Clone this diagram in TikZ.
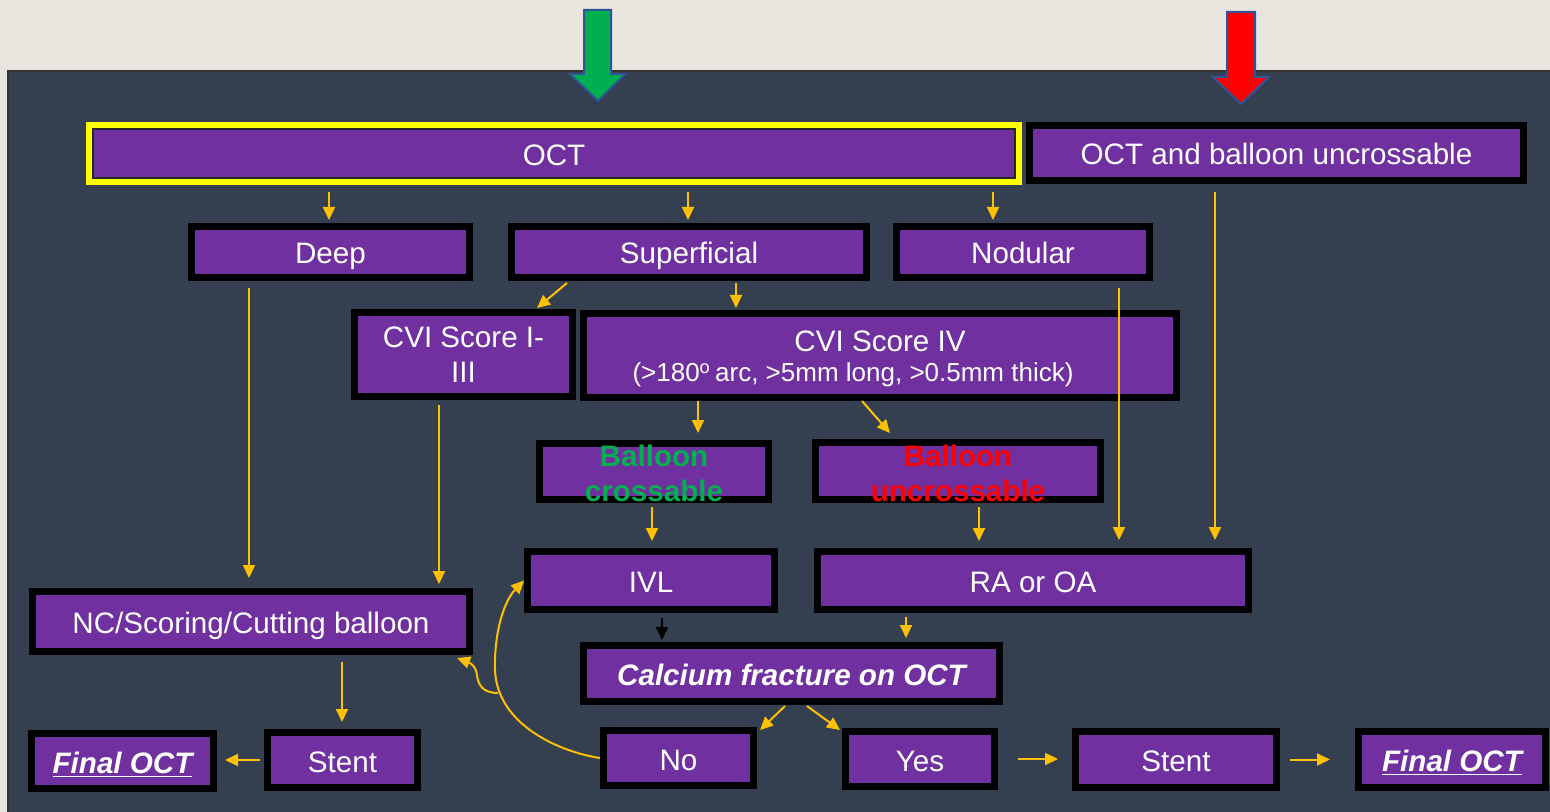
\documentclass[tikz,border=0pt]{standalone}
\usepackage{fontspec}
\setmainfont{Liberation Sans}
\usetikzlibrary{arrows.meta,calc}
\definecolor{bgc}{HTML}{E7E5DE}
\definecolor{panelc}{HTML}{343F50}
\definecolor{purp}{HTML}{7030A0}
\definecolor{orng}{HTML}{FFC000}
\definecolor{grn}{HTML}{00B050}
\definecolor{rd}{HTML}{FF0000}
\definecolor{ylw}{HTML}{FFFF00}
\definecolor{arrline}{HTML}{2F5597}
\tikzset{
  boxbase/.style={draw=black, fill=purp, line width=3.5pt, inner sep=0pt, text=white,
    font=\fontsize{14.8}{17.5}\selectfont, align=center},
  box/.style={boxbase, text height=12pt, text depth=0pt},
  txt/.style={text=white, inner sep=0pt, font=\fontsize{14.8}{17.5}\selectfont, align=center},
  arr/.style={draw=orng, line width=1pt, -{Triangle[length=6.5pt,width=6pt]}},
  blackarr/.style={draw=black, line width=1pt, -{Triangle[length=6.5pt,width=6pt]}},
  bigarrow/.style={draw=arrline, line width=1pt, line join=miter},
  fin/.style={font=\fontsize{14.8}{17.5}\selectfont\bfseries\itshape}
}
\begin{document}
\begin{tikzpicture}[x=0.5pt,y=-0.5pt]
\useasboundingbox (0,0) rectangle (1550,812);
\fill[bgc] (0,0) rectangle (1550,812);
\filldraw[fill=panelc, draw=black!80, line width=0.6pt] (8,71) rectangle (1553,815);

% top arrows
\filldraw[bigarrow, fill=grn] (584,10) -- (611,10) -- (611,74) -- (625,74) -- (598,101) -- (570,74) -- (584,74) -- cycle;
\filldraw[bigarrow, fill=rd] (1227,12) -- (1255,12) -- (1255,77) -- (1269,77) -- (1241,104) -- (1213,77) -- (1227,77) -- cycle;

% boxes
\node[box, draw=ylw, minimum width=464.5pt, minimum height=28pt] (OCT) at (554,153.5) {OCT};
\draw[black!85, line width=0.6pt] ($(OCT.south west)+(7,-7)$) rectangle ($(OCT.north east)+(-7,7)$);
\node[box, minimum width=247pt, minimum height=27.5pt] (OCTBU) at (1276.5,153) {OCT and balloon uncrossable};
\node[box, minimum width=139pt, minimum height=25.5pt] (Deep) at (330.5,252) {Deep};
\node[box, minimum width=177.5pt, minimum height=25.5pt] (Sup) at (689,252) {Superficial};
\node[box, minimum width=126.5pt, minimum height=25.5pt] (Nod) at (1023,252) {Nodular};
\node[boxbase, minimum width=109pt, minimum height=42pt] (CVIa) at (463.5,354.5) {CVI Score I-\\III};
\node[boxbase, minimum width=296.5pt, minimum height=42pt] (CVIb) at (880,355.5) {};
\node[txt] (CVIbt) at (880,341) {CVI Score IV};
\node[txt, font=\fontsize{13}{15}\selectfont] (CVIbs) at (853,375) {(>180\textsuperscript{o}\,arc, >5mm long, >0.5mm thick)};
\node[boxbase, minimum width=114.5pt, minimum height=28pt] (BC) at (654,471.5) {};
\node[txt, text=grn, font=\fontsize{14.8}{17.5}\selectfont\bfseries] (BCt) at (654,473.5) {Balloon\\crossable};
\node[boxbase, minimum width=142.5pt, minimum height=28.5pt] (BU) at (958,471) {};
\node[txt, text=rd, font=\fontsize{14.8}{17.5}\selectfont\bfseries] (BUt) at (958,473) {Balloon\\uncrossable};
\node[box, minimum width=123.5pt, minimum height=29pt] (IVL) at (651,580.5) {IVL};
\node[box, minimum width=215.5pt, minimum height=29pt] (RA) at (1033,580.5) {RA or OA};
\node[box, minimum width=218.5pt, minimum height=30pt] (NC) at (251,621.5) {NC/Scoring/Cutting balloon};
\node[box, minimum width=208pt, minimum height=28pt, fin] (Calc) at (791.5,673.5) {Calcium fracture on OCT};
\node[box, minimum width=75pt, minimum height=27.5pt] (No) at (678.5,758) {No};
\node[box, minimum width=74.5pt, minimum height=27.5pt] (Yes) at (920,759) {Yes};
\node[box, minimum width=100.5pt, minimum height=28pt] (StentR) at (1176,759.5) {Stent};
\node[box, minimum width=93.5pt, minimum height=28pt, fin] (FinR) at (1452,759.5) {\underline{Final OCT}};
\node[box, minimum width=75pt, minimum height=27.5pt] (StentL) at (342.5,760) {Stent};
\node[box, minimum width=91pt, minimum height=27.5pt, fin] (FinL) at (122.5,761) {\underline{Final OCT}};

% x positions of vertical connectors
\coordinate (x249) at (249,0);
\coordinate (x329) at (329,0);
\coordinate (x342) at (342,0);
\coordinate (x439) at (439,0);
\coordinate (x652) at (652,0);
\coordinate (x662) at (662,0);
\coordinate (x688) at (688,0);
\coordinate (x698) at (698,0);
\coordinate (x736) at (736,0);
\coordinate (x906) at (906,0);
\coordinate (x979) at (979,0);
\coordinate (x993) at (993,0);
\coordinate (x1119) at (1119,0);
\coordinate (x1215) at (1215,0);

% vertical connectors
\draw[arr, shorten <=3.5pt, shorten >=1.5pt] (x329 |- OCT.south) -- (x329 |- Deep.north);
\draw[arr, shorten <=3.5pt, shorten >=1.5pt] (x688 |- OCT.south) -- (x688 |- Sup.north);
\draw[arr, shorten <=3.5pt, shorten >=1.5pt] (x993 |- OCT.south) -- (x993 |- Nod.north);
\draw[arr, shorten <=1pt, shorten >=1pt] (x736 |- Sup.south) -- (x736 |- CVIb.north);
\draw[arr, shorten <=3.5pt, shorten >=5pt] (x249 |- Deep.south) -- (x249 |- NC.north);
\draw[arr, shorten <=2.5pt, shorten >=2pt] (x439 |- CVIa.south) -- (x439 |- NC.north);
\draw[arr, shorten <=0pt, shorten >=3.5pt] (x698 |- CVIb.south) -- (x698 |- BC.north);
\draw[arr, shorten <=3.5pt, shorten >=4pt] (x1119 |- Nod.south) -- (x1119 |- RA.north);
\draw[arr, shorten <=4pt, shorten >=4pt] (x1215 |- OCTBU.south) -- (x1215 |- RA.north);
\draw[arr, shorten <=2pt, shorten >=3.5pt] (x652 |- BC.south) -- (x652 |- IVL.north);
\draw[arr, shorten <=2pt, shorten >=3.5pt] (x979 |- BU.south) -- (x979 |- RA.north);
\draw[blackarr, shorten <=2.5pt, shorten >=1pt] (x662 |- IVL.south) -- (x662 |- Calc.north);
\draw[arr, shorten <=2pt, shorten >=2pt] (x906 |- RA.south) -- (x906 |- Calc.north);
\draw[arr, shorten <=3.5pt, shorten >=3.5pt] (x342 |- NC.south) -- (x342 |- StentL.north);

% diagonal connectors
\draw[arr] ($(Sup.south)+(-122,2)$) -- ($(CVIa.north east)+(-39,-1)$);
\draw[arr] ($(CVIb.south)+(-18,0)$) -- ($(BU.north)+(-68,-6)$);
\draw[arr] ($(Calc.south)+(-6.5,1)$) -- ($(No.north east)+(3,3)$);
\draw[arr] ($(Calc.south)+(15.5,1)$) -- ($(Yes.north west)+(-2,2)$);

% horizontal connectors
\draw[arr, shorten <=10pt, shorten >=7pt] (Yes.east) -- (Yes.east -| StentR.west);
\draw[arr, shorten <=5pt, shorten >=12.5pt] (StentR.east) -- (StentR.east -| FinR.west);
\draw[arr, shorten <=2pt, shorten >=4pt] (StentL.west) -- (StentL.west -| FinL.east);

% curved feedback from No
\draw[arr] (No.west) .. controls (560,752) and (497,725) .. (495,670) .. controls (494,630) and (505,600) .. (IVL.west);
\coordinate (br) at (498,693);
\draw[arr] (br) .. controls (482,693) and (478,684) .. (477,675) .. controls (476,665) and (468,662) .. ($(NC.south east)+(-16,3)$);
\end{tikzpicture}
\end{document}
